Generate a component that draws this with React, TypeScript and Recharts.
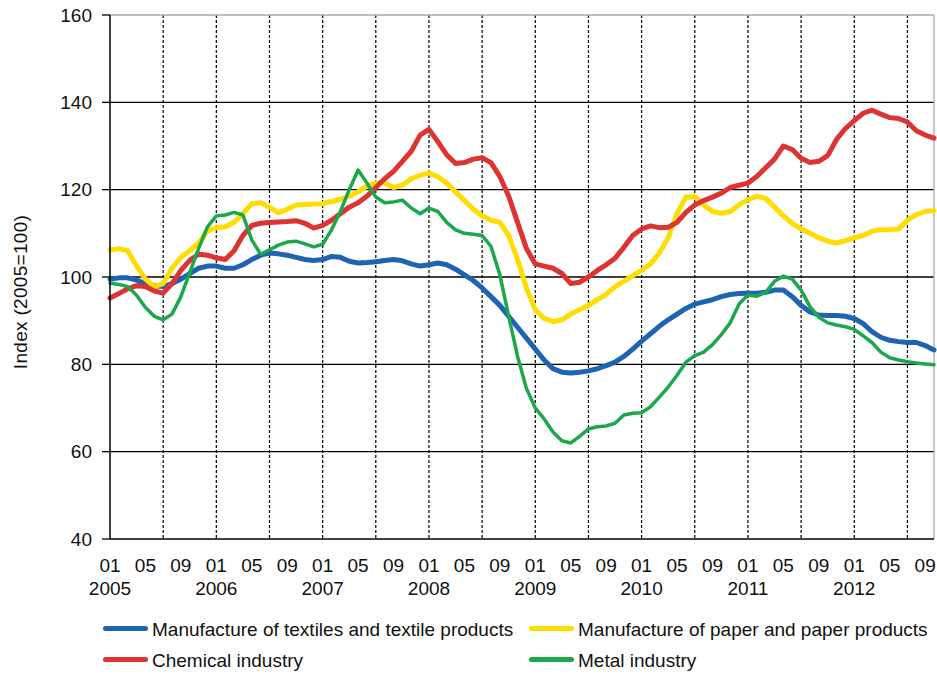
import { LineChart, Line, XAxis, YAxis, CartesianGrid } from "recharts";

// monthly index, 2005-01 .. 2012-10
const years = ["2005", "2006", "2007", "2008", "2009", "2010", "2011", "2012"];
const monthCodes = ["01", "02", "03", "04", "05", "06", "07", "08", "09", "10", "11", "12"];
const months = years.flatMap(y => monthCodes.map(m => `${y}-${m}`)).slice(0, 94);

const textiles = [
  99.5, 99.8, 99.8, 99.3, 98.5, 98.0, 97.8, 98.5, 99.5, 100.8, 102.0, 102.5,
  102.5, 102.0, 102.0, 102.8, 104.0, 105.0, 105.5, 105.3, 105.0, 104.5, 104.0, 103.8,
  104.0, 104.7, 104.5, 103.6, 103.2, 103.3, 103.5, 103.8, 104.0, 103.7, 103.0, 102.5,
  102.8, 103.2, 102.8, 101.8, 100.5, 99.2, 97.5, 95.5, 93.5, 91.0, 88.5, 86.0,
  83.5, 81.0, 79.0, 78.2, 78.0, 78.2, 78.5, 79.0, 79.7, 80.5, 81.8, 83.5,
  85.3, 87.0, 88.7, 90.2, 91.5, 92.8, 93.8, 94.3, 94.8, 95.5, 96.0, 96.2,
  96.3, 96.3, 96.5, 97.0, 97.0, 95.5, 93.5, 92.0, 91.3, 91.2, 91.2, 91.0,
  90.5, 89.3, 87.5, 86.2, 85.5, 85.2, 85.0, 85.0, 84.3, 83.3,
];
const paper = [
  106.2, 106.5, 106.0, 102.5, 99.5, 97.8, 98.5, 102.0, 104.5, 106.0, 107.8, 110.5,
  111.3, 111.5, 112.5, 114.5, 116.8, 117.0, 116.0, 114.7, 115.5, 116.5, 116.6, 116.7,
  116.8, 117.3, 117.8, 118.5, 119.5, 120.8, 121.5, 121.5, 120.5, 121.0, 122.5, 123.3,
  123.8, 123.0, 121.5, 119.5, 117.5, 115.5, 114.0, 113.0, 112.5, 109.5, 104.0, 97.5,
  92.5, 90.5, 89.8, 90.2, 91.5, 92.5, 93.5, 94.8, 96.0, 97.8, 99.0, 100.3,
  101.5, 103.0, 105.5, 109.0, 114.5, 118.3, 118.4, 116.5, 115.0, 114.6, 115.0, 116.5,
  117.7, 118.5, 118.0, 116.0, 114.0, 112.3, 111.0, 110.0, 109.0, 108.2, 107.8, 108.3,
  109.0, 109.5, 110.5, 110.8, 110.8, 111.0, 113.0, 114.3, 115.0, 115.2,
];
const chemical = [
  95.2, 96.2, 97.3, 98.0, 97.8, 96.8, 96.3, 98.5, 101.5, 103.8, 105.2, 105.0,
  104.4, 104.0, 106.0, 109.5, 111.8, 112.3, 112.5, 112.6, 112.7, 112.9, 112.3, 111.2,
  111.8, 113.0, 114.5, 116.0, 117.0, 118.5, 120.5, 122.5, 124.2, 126.5, 128.8, 132.5,
  133.8, 131.0, 128.0, 126.0, 126.2, 127.0, 127.3, 126.2, 123.0, 118.5, 112.5, 106.5,
  103.0, 102.5, 102.0, 100.8, 98.5, 98.8, 100.0, 101.5, 102.8, 104.3, 106.8, 109.5,
  111.0, 111.7, 111.3, 111.4, 112.5, 114.8, 116.5, 117.5, 118.3, 119.2, 120.5, 121.0,
  121.5, 123.0, 125.0, 127.0, 130.0, 129.2, 127.2, 126.2, 126.5, 127.8, 131.5, 134.0,
  135.8, 137.5, 138.2, 137.3, 136.5, 136.3, 135.5, 133.5, 132.5, 131.8,
];
const metal = [
  98.6, 98.3, 97.8, 95.8, 93.0, 91.0, 90.2, 91.5, 95.5, 101.0, 106.5, 111.5,
  114.0, 114.2, 114.8, 114.2, 108.5, 105.2, 106.2, 107.3, 108.0, 108.2, 107.6, 106.9,
  107.5, 110.8, 115.0, 120.0, 124.5, 121.5, 118.3, 117.0, 117.2, 117.6, 115.8, 114.5,
  115.8, 115.0, 112.5, 110.8, 110.0, 109.8, 109.5, 107.0, 100.5, 91.0, 81.8, 74.5,
  70.0, 67.5, 64.5, 62.5, 62.0, 63.5, 65.2, 65.7, 65.9, 66.5, 68.4, 68.8,
  68.9, 70.3, 72.5, 74.8, 77.5, 80.5, 82.0, 82.8, 84.5, 86.8, 89.5, 93.8,
  95.9, 95.6, 96.5, 99.0, 100.2, 99.5, 97.0, 93.2, 90.8, 89.5, 89.0, 88.6,
  88.0, 86.5, 85.0, 82.8, 81.5, 81.0, 80.6, 80.3, 80.1, 79.9,
];

const labelMonths = ["01", "05", "09"];
const gridMonths = ["01", "07"];
const yTicks = [40, 60, 80, 100, 120, 140, 160];

const series = [
  { key: "textiles", name: "Manufacture of textiles and textile products", color: "#1f63b3", width: 5 },
  { key: "paper", name: "Manufacture of paper and paper products", color: "#ffdd00", width: 5 },
  { key: "chemical", name: "Chemical industry", color: "#dd3333", width: 5 },
  { key: "metal", name: "Metal industry", color: "#1aa84b", width: 3.5 },
];

const data = months.map((m, i) => ({
  m,
  textiles: textiles[i],
  paper: paper[i],
  chemical: chemical[i],
  metal: metal[i],
}));

const FONT = "'Liberation Sans', Arial, sans-serif";

const xTicks = months.filter(m => labelMonths.includes(m.slice(5)));
const xGrid = months.filter((m, i) => i > 0 && gridMonths.includes(m.slice(5)));

function MonthTick({ x, y, payload }: any) {
  const [yr, mo] = String(payload.value).split("-");
  return (
    <g fontFamily={FONT} fontSize={19} fill="#111">
      <text x={x} y={y} dy={33} textAnchor="middle">{mo}</text>
      {mo === "01" && <text x={x} y={y} dy={56} textAnchor="middle">{yr}</text>}
    </g>
  );
}

function YLabel({ viewBox }: any) {
  const cx = viewBox.x + 27;
  const cy = viewBox.y + viewBox.height / 2 + 15;
  return (
    <text x={cx} y={cy} transform={`rotate(-90 ${cx} ${cy})`} textAnchor="middle"
      fontFamily={FONT} fontSize={19} fill="#111" letterSpacing={0.3}>
      Index (2005=100)
    </text>
  );
}

export default function App() {
  return (
    <div style={{ position: "absolute", left: 0, top: 0, width: 937, height: 674, background: "#fff" }}>
      <LineChart width={937} height={674} data={data} margin={{ top: 15, right: 3, left: 0, bottom: 75 }}>
        <CartesianGrid vertical={false} horizontalValues={[60, 80, 100, 120, 140]} stroke="#000" strokeWidth={1.3} />
        <CartesianGrid horizontal={false} verticalValues={xGrid} stroke="#000" strokeWidth={1.2} strokeDasharray="3 2" />
        <CartesianGrid horizontalValues={[160]} verticalValues={[months[months.length - 1]]} stroke="#aaa" strokeWidth={1.3} />
        <XAxis dataKey="m" ticks={xTicks} interval={0} tick={<MonthTick />} tickLine={false}
          tickSize={0} tickMargin={0} height={60} axisLine={{ stroke: "#000", strokeWidth: 1.5 }} />
        <YAxis domain={[40, 160]} ticks={yTicks} width={110} tickSize={8} tickMargin={10}
          axisLine={{ stroke: "#000", strokeWidth: 1.5 }} tickLine={{ stroke: "#000", strokeWidth: 1.3 }}
          tick={{ fontFamily: FONT, fontSize: 19, fill: "#111" }}
          label={{ content: (p: any) => <YLabel {...p} /> }} />
        {series.map(s => (
          <Line key={s.key} dataKey={s.key} name={s.name} stroke={s.color} strokeWidth={s.width}
            dot={false} type="linear" strokeLinejoin="round" strokeLinecap="round" isAnimationActive={false} />
        ))}
      </LineChart>

      {/* legend */}
      {series.map((s, i) => (
        <div key={s.key} style={{
          position: "absolute", left: i % 2 === 0 ? 103 : 529, top: i < 2 ? 619 : 650,
          display: "flex", alignItems: "center", height: 22,
          fontFamily: FONT, fontSize: 19, color: "#111", whiteSpace: "nowrap",
        }}>
          <span style={{ display: "inline-block", width: 45, height: 5, borderRadius: 3, background: s.color, marginRight: 4, marginTop: -3 }} />
          {s.name}
        </div>
      ))}
    </div>
  );
}
